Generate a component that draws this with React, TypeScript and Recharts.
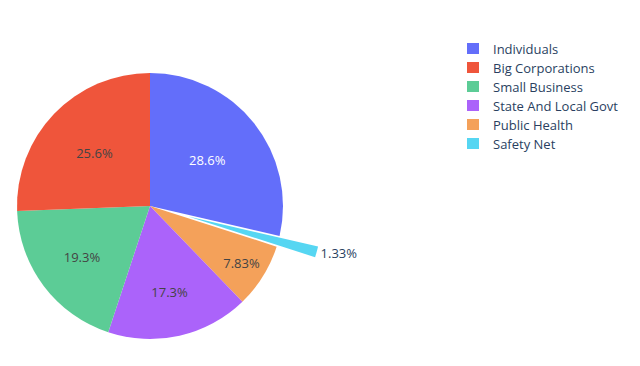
import { Cell, Legend, Pie, PieChart } from "recharts";

// slice order as drawn, clockwise from 12 o'clock
const sliceNames = ["Individuals", "Safety Net", "Public Health", "State And Local Govt", "Small Business", "Big Corporations"];
const sliceValues = [28.6, 1.33, 7.83, 17.3, 19.3, 25.6];

// legend order
const legendNames = ["Individuals", "Big Corporations", "Small Business", "State And Local Govt", "Public Health", "Safety Net"];

const pulledName = "Safety Net";

const colors: Record<string, string> = {
  Individuals: "#636efa",
  "Big Corporations": "#ef553b",
  "Small Business": "#5ccc96",
  "State And Local Govt": "#ab63fa",
  "Public Health": "#f4a15a",
  "Safety Net": "#56d6f2"
};

// where plotly parks the inside text, as a share of the radius
const labelRadius: Record<string, number> = {
  Individuals: 0.55,
  "Big Corporations": 0.58,
  "Small Business": 0.64,
  "State And Local Govt": 0.66,
  "Public Health": 0.81
};

const data = sliceNames.map((name, i) => ({ name, value: sliceValues[i] }));

const CX = 150;
const CY = 206;
const R = 133;
const PULL = 0.3 * R;
const RAD = Math.PI / 180;

const total = sliceValues.reduce((a, b) => a + b, 0);
const pulledIdx = sliceNames.indexOf(pulledName);
const before = sliceValues.slice(0, pulledIdx).reduce((a, b) => a + b, 0);
const pulledMid = 90 - ((before + sliceValues[pulledIdx] / 2) / total) * 360;
const pcx = CX + PULL * Math.cos(pulledMid * RAD);
const pcy = CY - PULL * Math.sin(pulledMid * RAD);

const fontFamily = '"Open Sans", verdana, arial, sans-serif';
const fmt = (p: number) => `${(p * 100).toPrecision(3)}%`;

function insideLabel(props: any) {
  const { cx, cy, midAngle, outerRadius, percent, name } = props;
  if (name === pulledName) return null;
  const r = outerRadius * (labelRadius[name] ?? 0.6);
  const x = cx + r * Math.cos(-midAngle * RAD);
  const y = cy + r * Math.sin(-midAngle * RAD);
  return (
    <text
      x={x}
      y={y}
      textAnchor="middle"
      dominantBaseline="central"
      fontSize={13}
      fontFamily={fontFamily}
      fill={name === "Individuals" ? "#ffffff" : "#444444"}
    >
      {fmt(percent)}
    </text>
  );
}

function outsideLabel(props: any) {
  const { cx, cy, midAngle, outerRadius, percent, name } = props;
  if (name !== pulledName) return null;
  const r = outerRadius + 4;
  const x = cx + r * Math.cos(-midAngle * RAD);
  const y = cy + r * Math.sin(-midAngle * RAD);
  return (
    <text x={x} y={y} textAnchor="start" dominantBaseline="central" fontSize={13} fontFamily={fontFamily} fill="#2a3f5f">
      {fmt(percent)}
    </text>
  );
}

function LegendBox() {
  return (
    <div style={{ fontFamily, fontSize: 13, color: "#2a3f5f" }}>
      {legendNames.map((name) => (
        <div key={name} style={{ display: "flex", alignItems: "center", height: 19 }}>
          <span style={{ display: "inline-block", width: 12, height: 11, background: colors[name], marginRight: 14 }} />
          <span>{name}</span>
        </div>
      ))}
    </div>
  );
}

export default function App() {
  return (
    <div style={{ position: "absolute", left: 0, top: 0, width: 640, height: 366, background: "#fff" }}>
      <PieChart width={640} height={366} margin={{ top: 0, right: 0, bottom: 0, left: 0 }}>
        <Pie
          data={data}
          dataKey="value"
          nameKey="name"
          cx={CX}
          cy={CY}
          outerRadius={R}
          startAngle={90}
          endAngle={-270}
          stroke="none"
          label={insideLabel}
          labelLine={false}
          isAnimationActive={false}
        >
          {data.map((d) => (
            <Cell key={d.name} fill={d.name === pulledName ? "transparent" : colors[d.name]} />
          ))}
        </Pie>
        <Pie
          data={data}
          dataKey="value"
          nameKey="name"
          cx={pcx}
          cy={pcy}
          outerRadius={R}
          startAngle={90}
          endAngle={-270}
          stroke="none"
          label={outsideLabel}
          labelLine={false}
          legendType="none"
          isAnimationActive={false}
        >
          {data.map((d) => (
            <Cell key={d.name} fill={d.name === pulledName ? colors[d.name] : "transparent"} />
          ))}
        </Pie>
        <Legend
          content={() => <LegendBox />}
          wrapperStyle={{ position: "absolute", left: 467, top: 39, width: 172 }}
        />
      </PieChart>
    </div>
  );
}
